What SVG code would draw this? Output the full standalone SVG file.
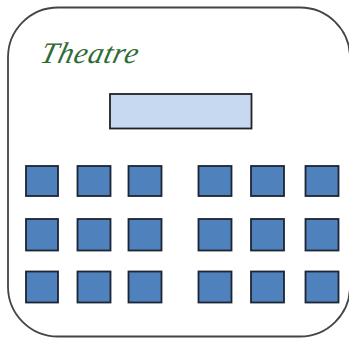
<svg xmlns="http://www.w3.org/2000/svg" width="349" height="338" viewBox="0 0 349 338">
<style>
.seat{fill:#4f81bd;stroke:#1c2533;stroke-width:1.800}
.title{font-family:"Liberation Serif",serif;font-style:italic;font-size:30px;fill:#2f6b35}
</style>
<rect width="349" height="338" fill="#ffffff"/>
<g id="room"><rect x="8" y="7.500" width="342" height="329" rx="50" ry="50" fill="#ffffff" stroke="#444444" stroke-width="1.800"/></g>
<g id="title"><text class="title" transform="translate(39 63) skewX(-14)" x="0" y="0" textLength="97" lengthAdjust="spacing">Theatre</text></g>
<g id="stage"><rect x="110" y="94" width="141.500" height="34.500" fill="#c6d9f1" stroke="#222222" stroke-width="1.800"/></g>
<g id="seats">
<rect id="s1" class="seat" x="26" y="166" width="32" height="30"/>
<rect id="s2" class="seat" x="77.500" y="166" width="33" height="30"/>
<rect id="s3" class="seat" x="128.500" y="166" width="33" height="30"/>
<rect id="s4" class="seat" x="198.500" y="166" width="33" height="30"/>
<rect id="s5" class="seat" x="251" y="166" width="33" height="30"/>
<rect id="s6" class="seat" x="305.500" y="166" width="33" height="30"/>
<rect id="s7" class="seat" x="26" y="219" width="32" height="31.500"/>
<rect id="s8" class="seat" x="77.500" y="219" width="33" height="31.500"/>
<rect id="s9" class="seat" x="128.500" y="219" width="33" height="31.500"/>
<rect id="s10" class="seat" x="198.500" y="219" width="33" height="31.500"/>
<rect id="s11" class="seat" x="251" y="219" width="33" height="31.500"/>
<rect id="s12" class="seat" x="305.500" y="219" width="33" height="31.500"/>
<rect id="s13" class="seat" x="26" y="271.500" width="32" height="31"/>
<rect id="s14" class="seat" x="77.500" y="271.500" width="33" height="31"/>
<rect id="s15" class="seat" x="128.500" y="271.500" width="33" height="31"/>
<rect id="s16" class="seat" x="198.500" y="271.500" width="33" height="31"/>
<rect id="s17" class="seat" x="251" y="271.500" width="33" height="31"/>
<rect id="s18" class="seat" x="305.500" y="271.500" width="33" height="31"/>
</g>
</svg>
